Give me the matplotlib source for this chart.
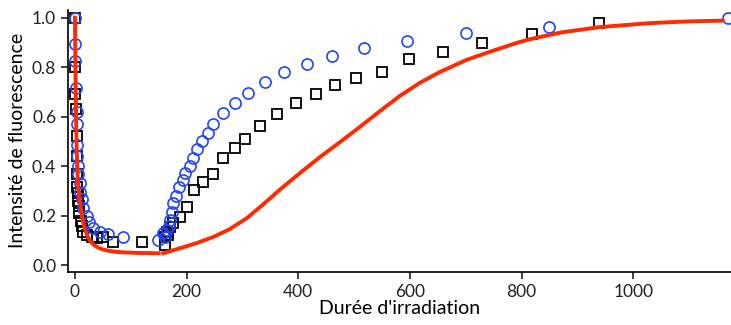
import numpy as np
import matplotlib.pyplot as plt

plt.rcParams['font.family'] = ['Lato', 'DejaVu Sans']

# cercles bleus
t_bleu = [0, 0, 0.5, 1, 3.6, 3.6, 4, 4, 5, 5.5, 9, 9.5, 12.5, 14, 21.5, 25, 32, 45, 59, 86,
          149, 158, 162, 165, 168, 170, 174, 176, 181, 186, 193, 197, 206, 211, 218, 227,
          238, 247, 265, 286, 310, 340, 374, 415, 460, 517, 594, 700, 849, 1170]
y_bleu = [1.0, 0.895, 0.825, 0.715, 0.62, 0.57, 0.485, 0.44, 0.40, 0.37, 0.33, 0.295, 0.267,
          0.23, 0.20, 0.175, 0.15, 0.133, 0.125, 0.113,
          0.10, 0.13, 0.115, 0.14, 0.16, 0.182, 0.215, 0.25, 0.28, 0.316, 0.344, 0.372, 0.40,
          0.433, 0.47, 0.50, 0.534, 0.57, 0.615, 0.656, 0.696, 0.74, 0.78, 0.813, 0.846,
          0.878, 0.907, 0.94, 0.963, 1.0]

# carrés noirs
t_noir = [0, 0.5, 0.5, 1, 3.6, 3.6, 3.6, 4, 5.4, 5.4, 7, 7, 11, 12.5, 14, 21.5, 30, 39, 50,
          68, 120,
          161, 161, 164, 167, 170, 176, 188, 201, 213, 229, 247, 265, 286, 304, 331, 361,
          396, 431, 466, 504, 550, 598, 659, 729, 818, 938]
y_noir = [1.0, 0.80, 0.69, 0.63, 0.52, 0.44, 0.37, 0.315, 0.29, 0.26, 0.24, 0.21, 0.18,
          0.158, 0.134, 0.12, 0.113, 0.11, 0.113, 0.093, 0.093,
          0.081, 0.113, 0.134, 0.12, 0.154, 0.17, 0.194, 0.235, 0.304, 0.336, 0.368, 0.433,
          0.474, 0.51, 0.563, 0.612, 0.655, 0.692, 0.728, 0.757, 0.781, 0.834, 0.862,
          0.898, 0.935, 0.98]

# courbe rouge (deux parties)
t_rouge1 = [0, 1, 2, 3, 4, 5.4, 7, 9, 12.5, 15, 18, 21, 25, 30, 35, 42, 50, 60, 72, 90,
            115, 150]
y_rouge1 = [1.0, 0.75, 0.6, 0.47, 0.40, 0.33, 0.29, 0.255, 0.2, 0.17, 0.145, 0.125, 0.105,
            0.09, 0.08, 0.07, 0.063, 0.058, 0.054, 0.051, 0.049, 0.048]
t_rouge2 = [158, 188, 218, 247, 277, 308, 337, 367, 403, 439, 474, 510, 546, 582, 618,
            654, 702, 743, 791, 815, 870, 940, 1030, 1100, 1160]
y_rouge2 = [0.048, 0.068, 0.089, 0.113, 0.145, 0.19, 0.245, 0.305, 0.372, 0.437, 0.496,
            0.558, 0.622, 0.684, 0.737, 0.781, 0.83, 0.862, 0.898, 0.913, 0.94, 0.962,
            0.978, 0.985, 0.988]

fig = plt.figure(figsize=(7.31, 3.25), dpi=100)
ax = fig.add_axes([0.093, 0.163, 0.907, 0.807])

ax.plot(t_rouge1, y_rouge1, color='#ff2a00', lw=2.8, zorder=3)
ax.plot(t_rouge2, y_rouge2, color='#ff2a00', lw=2.8, zorder=3)
ax.plot(t_noir, y_noir, 's', ms=7.5, mfc='none', mec='black', mew=1.3, zorder=2)
ax.plot(t_bleu, y_bleu, 'o', ms=8, mfc='none', mec='#2244ff', mew=1.2, zorder=2)

ax.set_xlim(-12.5, 1175)
ax.set_ylim(-0.028, 1.032)
ax.set_xticks([0, 200, 400, 600, 800, 1000])
ax.set_yticks([0.0, 0.2, 0.4, 0.6, 0.8, 1.0])
ax.set_yticklabels(['0.0', '0.2', '0.4', '0.6', '0.8', '1.0'])
ax.spines['top'].set_visible(False)
ax.spines['right'].set_visible(False)
ax.spines['left'].set_linewidth(1.2)
ax.spines['bottom'].set_linewidth(1.2)
ax.tick_params(direction='out', length=5, width=1.2, labelsize=12.5, colors='#222222')
ax.set_xlabel("Durée d'irradiation", fontsize=14, labelpad=0)
ax.set_ylabel('Intensité de fluorescence', fontsize=14, labelpad=4)

fig.savefig('out.png', dpi=100)
